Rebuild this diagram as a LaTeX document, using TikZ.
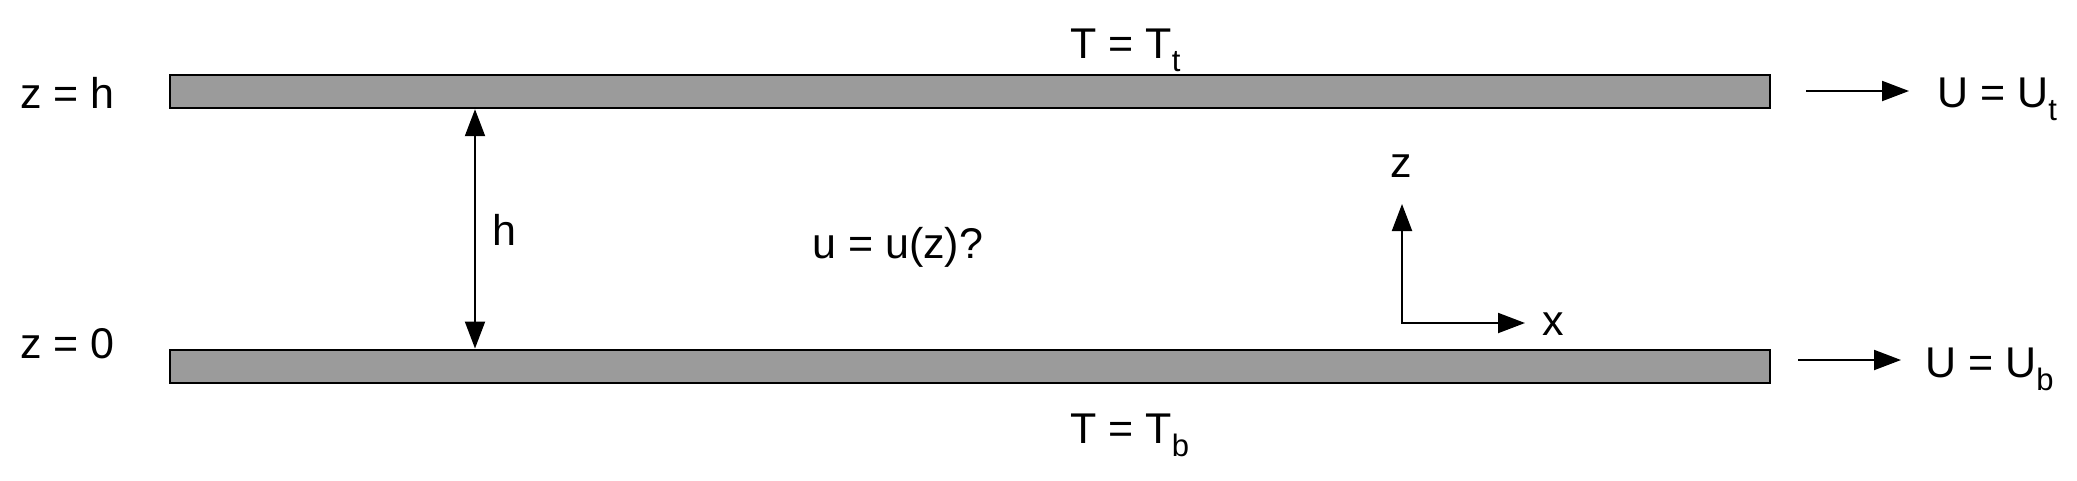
\documentclass[tikz,border=0pt]{standalone}
\usepackage{fontspec}
\setmainfont{Liberation Sans}
\usetikzlibrary{arrows.meta}
\definecolor{plategray}{RGB}{155,155,155}
\newcommand{\subs}[1]{\raisebox{-13pt}{\fontsize{31}{31}\selectfont #1}}
\begin{document}
\begin{tikzpicture}[x=1pt,y=-1pt,
  plate/.style={draw=black,fill=plategray,line width=2pt,minimum width=1600pt,minimum height=33pt,inner sep=0pt},
  lbl/.style={inner sep=0pt,anchor=base west,font=\fontsize{43}{50}\selectfont},
  tip/.style={-{Triangle[length=27pt,width=20pt]}},
  arr/.style={line width=2pt,tip},
  dbl/.style={line width=2pt,{Triangle[length=27pt,width=20pt]}-{Triangle[length=27pt,width=20pt]}}]
\useasboundingbox (0,0) rectangle (2077,480);
\node[plate] (top) at (969.5,91.7) {};
\node[plate] (bot) at (969.5,366) {};
% labels
\node[lbl] (zh) at (20,108) {z = h};
\node[lbl] (z0) at (20,358) {z = 0};
\node[lbl] (Tt) at (1070,58) {T = T\subs{t}};
\node[lbl] (Tb) at (1070,443) {T = T\subs{b}};
\node[lbl] (Ut) at (1937,107) {U = U\subs{t}};
\node[lbl] (Ub) at (1925,377) {U = U\subs{b}};
\node[lbl] (hl) at (492,245) {h};
\node[lbl] (uz) at (812,258) {u = u(z)?};
\node[lbl] (zl) at (1390,177) {z};
\node[lbl] (xl) at (1542,335) {x};
% gap arrow
\coordinate (hx) at (475,0);
\draw[dbl] (top.south -| hx) -- (bot.north -| hx);
% velocity arrows
\coordinate (uts) at (1806,91);
\coordinate (ute) at (1909,91);
\coordinate (ubs) at (1798,360);
\coordinate (ube) at (1901,360);
\draw[arr] (uts) -- (ute);
\draw[arr] (ubs) -- (ube);
% axes
\coordinate (o) at (1402,323);
\coordinate (zt) at (1402,204);
\coordinate (xt) at (1525,323);
\draw[line width=2pt,{Triangle[length=27pt,width=20pt]}-{Triangle[length=27pt,width=20pt]}] (zt) |- (xt);
\end{tikzpicture}
\end{document}
